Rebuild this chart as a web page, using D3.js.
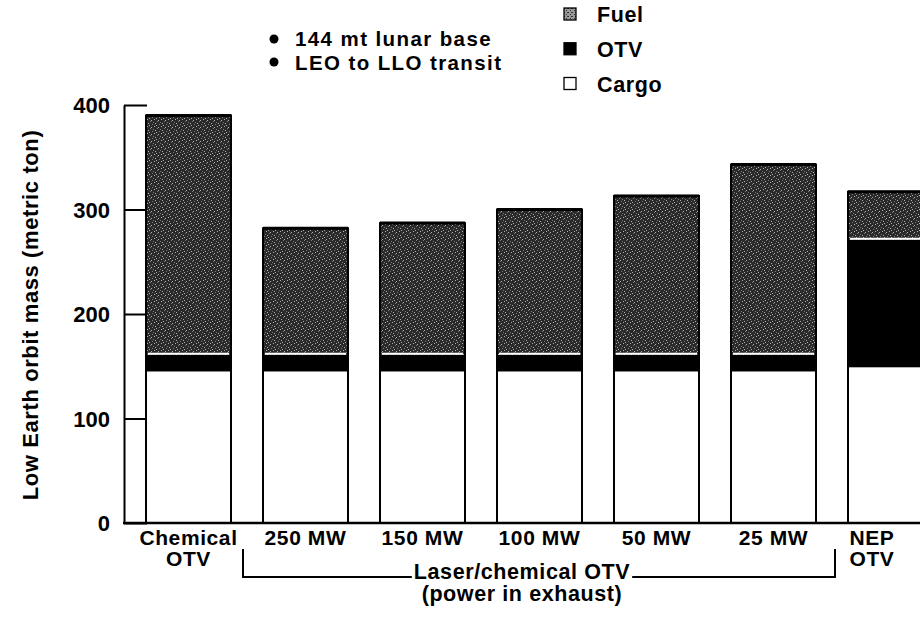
<!DOCTYPE html>
<html><head><meta charset="utf-8">
<script src="https://cdn.jsdelivr.net/npm/d3@7"></script>
<style>
html,body{margin:0;padding:0;background:#fff;}
svg{display:block;font-family:"Liberation Sans",Arial,Helvetica,sans-serif;font-weight:bold;}
</style></head>
<body>
<svg id="chart" width="920" height="636"></svg>
<script>
// ---- data ----
const categories = ["Chemical OTV","250 MW","150 MW","100 MW","50 MW","25 MW","NEP OTV"];
const labelLines = [["Chemical","OTV"],["250 MW"],["150 MW"],["100 MW"],["50 MW"],["25 MW"],["NEP","OTV"]];
const cargo = [145, 145, 145, 145, 145, 145, 149];
const otv   = [16, 16, 16, 16, 16, 16, 122];
const fuel  = [229, 121, 126, 139, 152, 182, 46];
const yTicks = [0, 100, 200, 300, 400];
const seriesNames = ["Fuel","OTV","Cargo"];
const notes = ["144 mt lunar base","LEO to LLO transit"];
const bracketText = ["Laser/chemical OTV","(power in exhaust)"];
const yTitle = "Low Earth orbit mass (metric ton)";

const svg = d3.select("#chart");
const defs = svg.append("defs");
const pat = defs.append("pattern").attr("id","fuelPat").attr("patternUnits","userSpaceOnUse")
  .attr("width",7).attr("height",7);
pat.append("rect").attr("width",7).attr("height",7).attr("fill","#2a2a2a");
[[0,0],[3,2],[1,4],[5,5],[4,1],[6,3],[2,6]].forEach(([a,b],i)=>pat.append("rect").attr("x",a).attr("y",b)
  .attr("width",1).attr("height",1).attr("fill", i%2? "#7a7a7a":"#b0b0b0"));
const pat2 = defs.append("pattern").attr("id","fuelPatL").attr("patternUnits","userSpaceOnUse")
  .attr("width",4).attr("height",4);
pat2.append("rect").attr("width",4).attr("height",4).attr("fill","#9a9a9a");
[[0,0],[2,2],[3,0]].forEach(([a,b])=>pat2.append("rect").attr("x",a).attr("y",b)
  .attr("width",1).attr("height",1).attr("fill","#333"));

const x0 = 124, yTop = 105, yBase = 523;
const y = d3.scaleLinear().domain([0,400]).range([yBase, yTop]);
const x = d3.scaleBand().domain(categories).range([146, 146 + 6*117 + 85]).paddingInner(32/117).paddingOuter(0);

const data = categories.map((c,i)=>({c, cargo:cargo[i], otv:otv[i], fuel:fuel[i],
  t1:cargo[i], t2:cargo[i]+otv[i], t3:cargo[i]+otv[i]+fuel[i]}));

const g = svg.append("g");
const bars = g.selectAll("g.bar").data(data).join("g").attr("class","bar");
bars.append("rect").attr("x",d=>x(d.c)).attr("width",x.bandwidth())
  .attr("y",d=>y(d.t1)).attr("height",d=>y(0)-y(d.t1)).attr("fill","#fff");
bars.append("rect").attr("x",d=>x(d.c)).attr("width",x.bandwidth())
  .attr("y",d=>y(d.t2)).attr("height",d=>y(d.t1)-y(d.t2)).attr("fill","#000");
bars.append("rect").attr("x",d=>x(d.c)).attr("width",x.bandwidth())
  .attr("y",d=>y(d.t3)).attr("height",d=>y(d.t2)-y(d.t3)).attr("fill","url(#fuelPat)");
bars.append("line").attr("x1",d=>x(d.c)+2).attr("x2",d=>x(d.c)+x.bandwidth()-2)
  .attr("y1",d=>y(d.t2)-1).attr("y2",d=>y(d.t2)-1).attr("stroke","#fff").attr("stroke-width",2);
bars.append("rect").attr("x",d=>x(d.c)).attr("width",x.bandwidth())
  .attr("y",d=>y(d.t3)).attr("height",d=>y(0)-y(d.t3))
  .attr("fill","none").attr("stroke","#000").attr("stroke-width",2);
bars.append("line").attr("x1",d=>x(d.c)).attr("x2",d=>x(d.c)+x.bandwidth())
  .attr("y1",d=>y(d.t3)).attr("y2",d=>y(d.t3)).attr("stroke","#000").attr("stroke-width",3);

// y axis
const yAxis = d3.axisLeft(y).tickValues(yTicks).tickSize(-23).tickSizeOuter(0).tickPadding(14);
const ya = svg.append("g").attr("transform",`translate(${x0},0)`).call(yAxis);
ya.select(".domain").attr("stroke","#000").attr("stroke-width",2);
ya.selectAll(".tick line").attr("stroke","#000").attr("stroke-width",2);
ya.selectAll(".tick text").attr("font-size",22).attr("font-family","Liberation Sans, Arial, sans-serif")
  .attr("font-weight","bold").attr("fill","#000").attr("dy","0.36em");

svg.append("line").attr("x1",x0-1).attr("x2",920).attr("y1",yBase).attr("y2",yBase)
  .attr("stroke","#000").attr("stroke-width",2.5);

const LS = "0.6px";
svg.append("text").attr("transform","translate(38,315) rotate(-90)").attr("text-anchor","middle")
  .attr("font-size",22).attr("letter-spacing",LS).text(yTitle);

categories.forEach((c,i)=>{
  const cx = Math.min(x(c)+x.bandwidth()/2, 872);
  const t = svg.append("text").attr("text-anchor","middle").attr("font-size",21)
    .attr("letter-spacing",LS).attr("x",cx).attr("y",545);
  labelLines[i].forEach((ln,j)=>t.append("tspan").attr("x",cx).attr("dy",j?21:0).text(ln));
});

// bracket
const bx1 = x(categories[1]) - 20, bx2 = x(categories[5]) + x.bandwidth() + 19, by = 577;
const bmid = (bx1+bx2)/2 - 17;
const bt = svg.append("text").attr("text-anchor","middle").attr("font-size",21.5).attr("letter-spacing",LS)
  .attr("x",bmid).attr("y",579).text(bracketText[0]);
const bw = bt.node().getComputedTextLength();
svg.append("path").attr("fill","none").attr("stroke","#000").attr("stroke-width",2)
  .attr("d",`M${bx1},${by-28}V${by}H${bmid-bw/2-2}M${bmid+bw/2+2},${by}H${bx2}V${by-28}`);
svg.append("text").attr("text-anchor","middle").attr("font-size",21.5).attr("letter-spacing",LS)
  .attr("x",bmid).attr("y",601).text(bracketText[1]);

notes.forEach((n,i)=>{
  svg.append("circle").attr("cx",274).attr("cy",39+i*23).attr("r",4.5).attr("fill","#000");
  svg.append("text").attr("x",295).attr("y",46+i*23.5).attr("font-size",20.5).attr("letter-spacing","1.4px").text(n);
});

const legFills = ["url(#fuelPatL)","#000","#fff"];
seriesNames.forEach((s,i)=>{
  const yy = 8 + i*34.75;
  svg.append("rect").attr("x",564).attr("y",yy).attr("width",12).attr("height",12)
    .attr("fill",legFills[i]).attr("stroke","#000").attr("stroke-width",1.3);
  svg.append("text").attr("x",597).attr("y",yy+14).attr("font-size",21.5).attr("letter-spacing",LS).text(s);
});
</script>
</body></html>
